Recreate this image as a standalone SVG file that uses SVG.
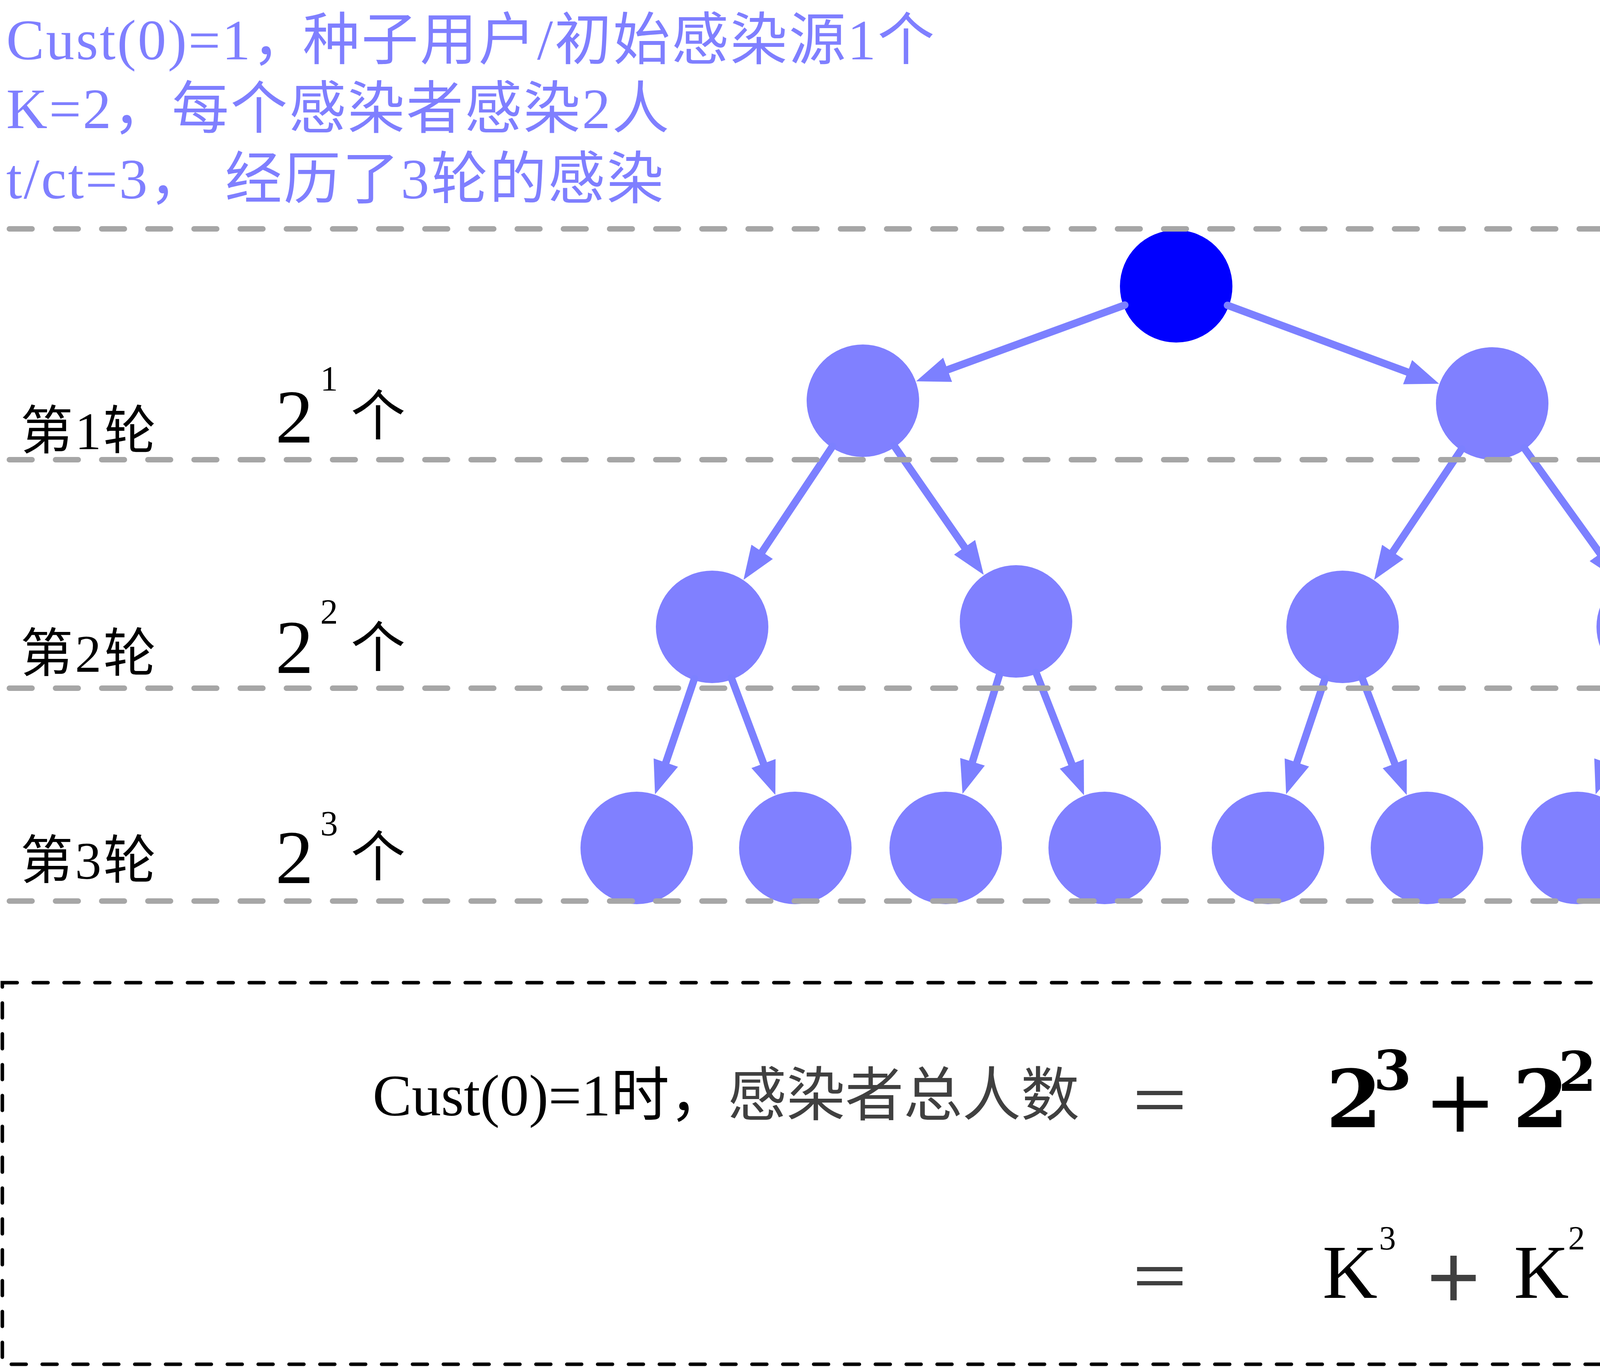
<svg xmlns="http://www.w3.org/2000/svg" width="5591" height="3500" viewBox="0 0 5591 3500">
<defs>
<style>
.cjk{font-family:"Liberation Serif","Noto Sans CJK SC",serif;}
.note{fill:#7f7fff;font-size:146px;letter-spacing:4px;}
.round{fill:#000;font-size:135px;letter-spacing:5px;}
.big{font-family:"Liberation Serif",serif;font-size:195px;fill:#000;}
.sup{font-family:"Liberation Serif",serif;font-size:90px;fill:#000;}
.ge{font-size:140px;fill:#000;}
.node{fill:#8080ff;}
.root{fill:#0000ff;}
.edge{stroke:#7c80ff;stroke-width:19;stroke-linecap:round;fill:none;marker-end:url(#ah);}
.guide{stroke:#a6a6a6;stroke-width:14;stroke-linecap:round;stroke-dasharray:58 60.2;fill:none;marker-end:url(#gh);}
.box{fill:none;stroke:#000;stroke-width:9;stroke-linecap:round;stroke-dasharray:38 41;}
.sum{font-size:150px;fill:#000;}
.gray{fill:#404040;}
.eq{font-family:"Noto Sans CJK SC",sans-serif;font-size:160px;fill:#404040;text-anchor:middle;}
.pl2{font-family:"Noto Sans CJK SC",sans-serif;font-size:160px;font-weight:700;fill:#404040;text-anchor:middle;}
.d1{font-family:"DejaVu Serif",serif;font-weight:bold;font-size:205px;fill:#000;text-anchor:middle;}
.s1{font-family:"DejaVu Serif",serif;font-weight:bold;font-size:140px;fill:#000;text-anchor:middle;}
.p1{font-family:"DejaVu Serif",serif;font-size:225px;fill:#000;text-anchor:middle;}
.k2{font-family:"Liberation Serif",serif;font-size:195px;fill:#000;text-anchor:middle;}
.ks{font-family:"Liberation Serif",serif;font-size:86px;fill:#000;text-anchor:middle;}
.one2{font-family:"Liberation Serif",serif;font-size:228px;fill:#404040;text-anchor:middle;}
</style>
<marker id="ah" markerUnits="userSpaceOnUse" viewBox="0 0 86 66" markerWidth="86" markerHeight="66" refX="46" refY="33" orient="auto">
<path d="M0,0 L86,33 L0,66 z" fill="#7c80ff"/>
</marker>
<marker id="gh" markerUnits="userSpaceOnUse" viewBox="0 -21 54 42" markerWidth="54" markerHeight="42" refX="6" refY="0" orient="auto">
<path d="M0,-21 Q22,-5 54,0 Q22,5 0,21 z" fill="#a6a6a6"/>
</marker>
</defs>
<rect width="5591" height="3500" fill="#fff"/>

<g id="notes" class="cjk note">
<text x="16" y="152">Cust(0)=1，<tspan x="775">种子用户/初始感染源1个</tspan></text>
<text x="16" y="328">K=2，<tspan x="440">每个感染者感染2人</tspan></text>
<text x="16" y="508">t/ct=3，<tspan x="576">经历了3轮的感染</tspan></text>
</g>

<g id="round-labels">
<g id="round1">
<text class="cjk round" x="52" y="1150">第1轮</text>
<text class="big" x="705" y="1133">2</text>
<text class="sup" x="820" y="1000">1</text>
<text class="cjk ge" x="898" y="1114">个</text>
</g>
<g id="round2">
<text class="cjk round" x="52" y="1720">第2轮</text>
<text class="big" x="705" y="1723">2</text>
<text class="sup" x="820" y="1597">2</text>
<text class="cjk ge" x="898" y="1707">个</text>
</g>
<g id="round3">
<text class="cjk round" x="52" y="2250">第3轮</text>
<text class="big" x="705" y="2261">2</text>
<text class="sup" x="820" y="2139">3</text>
<text class="cjk ge" x="898" y="2243">个</text>
</g>
</g>

<g id="nodes">
<g id="n0"><circle class="root" cx="3011" cy="733" r="144"/></g>
<g id="n1"><circle class="node" cx="2209" cy="1026" r="144"/></g>
<g id="n2"><circle class="node" cx="3820" cy="1033" r="144"/></g>
<g id="n3"><circle class="node" cx="1823" cy="1605" r="144"/></g>
<g id="n4"><circle class="node" cx="2601" cy="1591" r="144"/></g>
<g id="n5"><circle class="node" cx="3437" cy="1605" r="144"/></g>
<g id="n6"><circle class="node" cx="4231" cy="1605" r="144"/></g>
<g id="n7"><circle class="node" cx="1630" cy="2171" r="144"/></g>
<g id="n8"><circle class="node" cx="2036" cy="2171" r="144"/></g>
<g id="n9"><circle class="node" cx="2421" cy="2171" r="144"/></g>
<g id="n10"><circle class="node" cx="2828" cy="2171" r="144"/></g>
<g id="n11"><circle class="node" cx="3246" cy="2171" r="144"/></g>
<g id="n12"><circle class="node" cx="3653" cy="2171" r="144"/></g>
<g id="n13"><circle class="node" cx="4038" cy="2171" r="144"/></g>
<g id="n14"><circle class="node" cx="4445" cy="2171" r="144"/></g>
</g>

<g id="connectors">
<line class="edge" x1="2879.5" y1="781" x2="2382.8" y2="962.5"/>
<line class="edge" x1="3142.3" y1="781.7" x2="3646.5" y2="968.7"/>
<line class="edge" x1="2131.3" y1="1142.5" x2="1925.6" y2="1451.1"/>
<line class="edge" x1="2288.8" y1="1141" x2="2495.5" y2="1439"/>
<line class="edge" x1="3742.1" y1="1149.3" x2="3540" y2="1451.3"/>
<line class="edge" x1="3901.7" y1="1146.7" x2="4123.1" y2="1454.7"/>
<line class="edge" x1="1777.8" y1="1737.5" x2="1689.7" y2="1995.9"/>
<line class="edge" x1="1872.3" y1="1736" x2="1970.8" y2="1997.9"/>
<line class="edge" x1="2559.5" y1="1724.7" x2="2475.9" y2="1994.3"/>
<line class="edge" x1="2652" y1="1721.4" x2="2760.5" y2="1998.7"/>
<line class="edge" x1="3392.2" y1="1737.6" x2="3305.2" y2="1995.7"/>
<line class="edge" x1="3486.9" y1="1735.8" x2="3587" y2="1998.1"/>
<line class="edge" x1="4185.8" y1="1737.5" x2="4097.7" y2="1995.9"/>
<line class="edge" x1="4280.5" y1="1736" x2="4379.6" y2="1998"/>
</g>

<g id="guides">
<line class="guide" x1="24" y1="586" x2="5535" y2="586"/>
<line class="guide" x1="24" y1="1177" x2="5535" y2="1177"/>
<line class="guide" x1="24" y1="1762" x2="5535" y2="1762"/>
<line class="guide" x1="24" y1="2307" x2="5535" y2="2307"/>
</g>

<g id="summary">
<rect class="box" x="6" y="2516" width="5546" height="977"/>
<text class="cjk sum" x="954" y="2856">Cust(0)=1时，<tspan class="gray">感染者总人数</tspan></text>
<text class="eq" x="2969" y="2878">＝</text>
<text class="eq" x="2969" y="3329">＝</text>
<g id="formula1">
<text class="d1" x="3466" y="2886">2</text>
<text class="s1" x="3565" y="2790">3</text>
<text class="p1" x="3738" y="2898">+</text>
<text class="d1" x="3944" y="2886">2</text>
<text class="s1" x="4038" y="2793">2</text>
<text class="p1" x="4216" y="2898">+</text>
<text class="d1" x="4409" y="2886">2</text>
<text class="s1" x="4514" y="2793">1</text>
<text class="p1" x="4692" y="2898">+</text>
<text class="d1" x="4886" y="2886">1</text>
</g>
<g id="formula2">
<text class="k2" x="3456" y="3323">K</text>
<text class="ks" x="3552" y="3199">3</text>
<text class="pl2" x="3721" y="3333">＋</text>
<text class="k2" x="3946" y="3323">K</text>
<text class="ks" x="4036" y="3199">2</text>
<text class="pl2" x="4164" y="3333">＋</text>
<text class="k2" x="4373" y="3323">K</text>
<text class="ks" x="4459" y="3197">1</text>
<text class="pl2" x="4607" y="3333">＋</text>
<text class="one2" x="4808" y="3333">1</text>
</g>
</g>
</svg>
